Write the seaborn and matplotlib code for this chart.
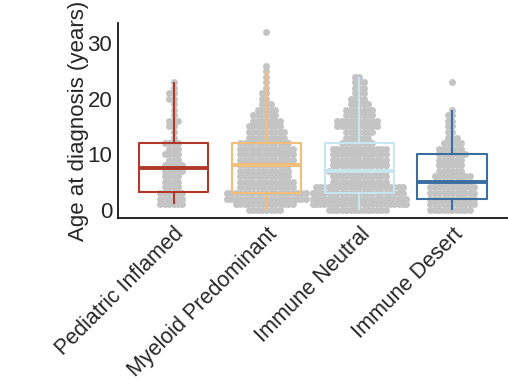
import numpy as np
import pandas as pd
import matplotlib
matplotlib.use("Agg")
import matplotlib.pyplot as plt
import seaborn as sns
from seaborn import categorical

# Groups and box colours
groups = ["Pediatric Inflamed", "Myeloid Predominant", "Immune Neutral", "Immune Desert"]
colors = ["#B0392B", "#F2BE78", "#C8E6F2", "#3A6FA0"]

ages = list(range(33))
pediatric_counts = [0, 6, 6, 6, 4, 4, 4, 5, 5, 3, 4, 3, 4, 1, 1, 2, 3, 1, 1, 1, 2, 2, 1, 1,
                    0, 0, 0, 0, 0, 0, 0, 0, 0]
myeloid_counts = [8, 14, 19, 19, 13, 13, 12, 12, 12, 13, 13, 13, 12, 9, 9, 8, 7, 6, 5, 3, 2, 2,
                  1, 1, 1, 1, 1, 0, 0, 0, 0, 0, 1]
neutral_counts = [14, 23, 23, 22, 21, 13, 13, 14, 13, 13, 13, 13, 8, 6, 7, 10, 10, 7, 7, 5, 4,
                  3, 3, 3, 2, 0, 0, 0, 0, 0, 0, 0, 0]
desert_counts = [10, 11, 11, 11, 11, 9, 9, 6, 6, 6, 7, 6, 5, 3, 2, 2, 2, 2, 1, 0, 0, 0, 0, 1,
                 0, 0, 0, 0, 0, 0, 0, 0, 0]

all_counts = [pediatric_counts, myeloid_counts, neutral_counts, desert_counts]
df = pd.concat([
    pd.DataFrame({"group": g, "age": np.repeat(ages, c)})
    for g, c in zip(groups, all_counts)
], ignore_index=True)

# the original swarm is wider and its dots overlap: widen the slot and
# lay the dots out with a smaller radius than they are drawn with
_bee_init = categorical.Beeswarm.__init__
def _wide_init(self, orient="x", width=0.8, warn_thresh=.05):
    _bee_init(self, orient=orient, width=width * 1.25, warn_thresh=warn_thresh)
categorical.Beeswarm.__init__ = _wide_init

_bee_swarm = categorical.Beeswarm.beeswarm
def _tight_swarm(self, orig_xyr):
    xyr = orig_xyr.copy()
    xyr[:, 2] *= 0.6
    return _bee_swarm(self, xyr)
categorical.Beeswarm.beeswarm = _tight_swarm

sns.set_style("white")
plt.rcParams["font.family"] = ["Liberation Sans", "DejaVu Sans"]

fig = plt.figure(figsize=(5.08, 3.81), dpi=100)
ax = fig.add_axes([0.232, 0.428, 0.768, 0.512])

sns.swarmplot(data=df, x="group", y="age", order=groups, color="#C4C4C4",
              size=5, linewidth=0, ax=ax, zorder=1, warn_thresh=1)

sns.boxplot(data=df, x="group", y="age", order=groups, hue="group",
            hue_order=groups, palette=colors, fill=False, width=0.75,
            showfliers=False, showcaps=False, whis=1.5, legend=False, ax=ax,
            linewidth=1.5, medianprops={"linewidth": 2.8}, zorder=3)

ax.set_xlim(-0.6, 3.6)
ax.set_ylim(-1.5, 33.7)
ax.set_yticks([0, 10, 20, 30])
ax.set_xlabel("")
ax.set_ylabel("Age at diagnosis (years)", fontsize=16, labelpad=-1)
ax.tick_params(axis="y", labelsize=16, length=2, width=0.8, pad=2)
ax.tick_params(axis="x", labelsize=15.5, length=2, width=0.8, pad=2)
plt.setp(ax.get_xticklabels(), rotation=45, ha="right", rotation_mode="anchor")
sns.despine(ax=ax)
for s in ["left", "bottom"]:
    ax.spines[s].set_linewidth(1.2)
    ax.spines[s].set_color("black")

fig.savefig("out.png", dpi=100)
